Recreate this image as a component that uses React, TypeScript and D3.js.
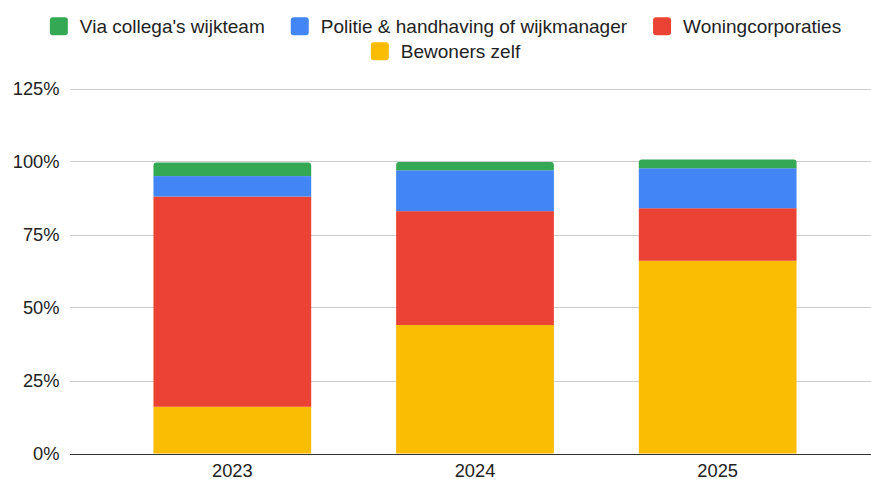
import React, { useEffect, useRef } from "react";
import * as d3 from "d3";

const categories = ["2023", "2024", "2025"];
const seriesNames = ["Bewoners zelf", "Woningcorporaties", "Politie & handhaving of wijkmanager", "Via collega's wijkteam"];
const seriesColors = ["#FBBC04", "#EA4335", "#4285F4", "#34A853"];
const bewoners = [16, 44, 66];
const woningcorporaties = [72, 39, 18];
const politie = [7, 14, 13.7];
const collega = [4.7, 2.8, 3];
const yTicks = [0, 25, 50, 75, 100, 125];
const legendRows = [
  ["Via collega's wijkteam", "Politie & handhaving of wijkmanager", "Woningcorporaties"],
  ["Bewoners zelf"],
];

const W = 871;
const H = 479;
const FONT = "'Liberation Sans', Arial, sans-serif";

export default function App() {
  const ref = useRef<SVGSVGElement>(null);
  useEffect(() => {
    const svg = d3.select(ref.current);
    svg.selectAll("*").remove();
    const values = [bewoners, woningcorporaties, politie, collega];
    const y = d3.scaleLinear().domain([0, 125]).range([453.5, 88.5]);
    const x = d3.scaleBand<string>().domain(categories).range([111, 839]).paddingInner(0.35).paddingOuter(0.175);

    const grid = svg.append("g");
    yTicks.forEach((t) => {
      grid.append("line")
        .attr("x1", 70).attr("x2", W)
        .attr("y1", Math.round(y(t)) + 0.5).attr("y2", Math.round(y(t)) + 0.5)
        .attr("stroke", t === 0 ? "#333" : "#ccc").attr("stroke-width", 1);
      grid.append("text")
        .attr("x", 59.5).attr("y", y(t)).attr("dy", "0.36em")
        .attr("text-anchor", "end").attr("font-family", FONT).attr("font-size", 18.3)
        .attr("fill", "#222").text(t + "%");
    });

    const bars = svg.append("g");
    categories.forEach((c, i) => {
      let acc = 0;
      const x0 = x(c)!;
      const bw = x.bandwidth();
      values.forEach((s, si) => {
        const v = s[i];
        const yTop = y(acc + v);
        const yBot = y(acc);
        acc += v;
        if (si === values.length - 1) {
          const r = 3;
          const p = d3.path();
          p.moveTo(x0, yBot);
          p.lineTo(x0, yTop + r);
          p.quadraticCurveTo(x0, yTop, x0 + r, yTop);
          p.lineTo(x0 + bw - r, yTop);
          p.quadraticCurveTo(x0 + bw, yTop, x0 + bw, yTop + r);
          p.lineTo(x0 + bw, yBot);
          p.closePath();
          bars.append("path").attr("d", p.toString()).attr("fill", seriesColors[si]);
        } else {
          bars.append("rect").attr("x", x0).attr("width", bw)
            .attr("y", yTop).attr("height", yBot - yTop).attr("fill", seriesColors[si]);
        }
      });
      svg.append("text")
        .attr("x", x0 + bw / 2).attr("y", 476.5)
        .attr("text-anchor", "middle").attr("font-family", FONT).attr("font-size", 18.3)
        .attr("fill", "#222").text(c);
    });
    svg.append("line").attr("x1", 70).attr("x2", W)
      .attr("y1", Math.round(y(0)) + 0.5).attr("y2", Math.round(y(0)) + 0.5)
      .attr("stroke", "#333");

    // legend
    const rowY = [26.3, 51.3];
    const sw = 18, gapText = 12, gapItem = 26;
    legendRows.forEach((row, ri) => {
      const g = svg.append("g");
      let cx = 0;
      row.forEach((name) => {
        const si = seriesNames.indexOf(name);
        g.append("rect").attr("x", cx).attr("y", rowY[ri] - sw / 2).attr("width", sw).attr("height", sw)
          .attr("rx", 3).attr("fill", seriesColors[si]);
        const t = g.append("text").attr("x", cx + sw + gapText).attr("y", rowY[ri]).attr("dy", "0.36em")
          .attr("font-family", FONT).attr("font-size", 19).attr("fill", "#222").text(name);
        const tw = (t.node() as SVGTextElement).getComputedTextLength();
        cx += sw + gapText + tw + gapItem;
      });
      const total = cx - gapItem;
      g.attr("transform", `translate(${445.5 - total / 2},0)`);
    });
  }, []);
  return (
    <svg ref={ref} width={W} height={H} style={{ position: "absolute", left: 0, top: 0, background: "#fff" }} />
  );
}
